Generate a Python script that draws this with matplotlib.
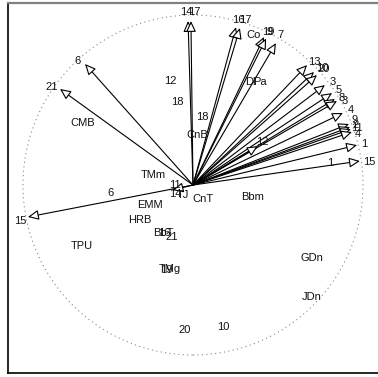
import matplotlib
matplotlib.use("Agg")
import matplotlib.pyplot as plt
from matplotlib.patches import Circle, FancyArrowPatch

plt.rcParams['font.family'] = ['Liberation Sans', 'DejaVu Sans']

# arrow (vector) scores: tips and their labels
arrow_labels = ['14', '17', '16', '17', '19', '9', '7', '13', '10', '20', '3', '5', '8', '3',
                '4', '9', '2', '11', '4', '1', '15', '15', '6', '21', '12', '14']
arrow_x = [-0.029, -0.012, 0.253, 0.276, 0.418, 0.43, 0.488, 0.671, 0.712, 0.729, 0.776, 0.818,
           0.835, 0.847, 0.882, 0.918, 0.924, 0.929, 0.935, 0.965, 0.982, -0.971, -0.635,
           -0.782, 0.382, -0.12]
arrow_y = [0.965, 0.965, 0.929, 0.924, 0.871, 0.862, 0.835, 0.706, 0.665, 0.647, 0.588, 0.541,
           0.506, 0.494, 0.424, 0.359, 0.341, 0.329, 0.312, 0.235, 0.141, -0.188, 0.712,
           0.565, 0.229, -0.03]
label_x = [-0.041, 0.006, 0.265, 0.306, 0.441, 0.448, 0.512, 0.712, 0.759, 0.771, 0.824, 0.859,
           0.876, 0.894, 0.929, 0.953, 0.959, 0.965, 0.971, 1.006, 1.035, -1.018, -0.682,
           -0.829, 0.406, -0.106]
label_y = [1.018, 1.018, 0.971, 0.971, 0.9, 0.9, 0.882, 0.724, 0.688, 0.682, 0.606, 0.559,
           0.512, 0.494, 0.441, 0.382, 0.353, 0.335, 0.3, 0.241, 0.135, -0.212, 0.729,
           0.576, 0.253, -0.053]

# site / other scores
site_labels = ['12', '18', '18', 'CnB', 'CMB', 'TMm', '11', '6', 'EMM', 'HRB', 'BbT', '16', '21',
               'TPU', 'TMg', '19', '20', '10', 'CnT', 'Bbm', 'GDn', 'JDn', 'Co', 'Dl', 'Pa', '1',
               'TJ']
site_x = [-0.135, -0.094, 0.053, 0.024, -0.647, -0.235, -0.106, -0.488, -0.253, -0.312, -0.176,
          -0.17, -0.124, -0.653, -0.135, -0.159, -0.047, 0.176, 0.059, 0.353, 0.7, 0.7, 0.359,
          0.335, 0.394, 0.806, -0.059]
site_y = [0.612, 0.488, 0.4, 0.294, 0.365, 0.059, 0.0, -0.047, -0.118, -0.206, -0.282, -0.282,
          -0.306, -0.359, -0.494, -0.5, -0.853, -0.835, -0.082, -0.071, -0.429, -0.659, 0.882,
          0.606, 0.606, 0.129, -0.059]

fig = plt.figure(figsize=(3.78, 3.77), dpi=100)
ax = fig.add_axes([8 / 378, 4 / 377, 372 / 378, 370 / 377])
ax.set_xlim(-1.088, 1.1)
ax.set_ylim(-1.106, 1.071)
ax.set_xticks([])
ax.set_yticks([])

# spines
ax.spines['right'].set_visible(False)
ax.spines['top'].set_color('#808080')
ax.spines['top'].set_linewidth(1.6)
ax.spines['left'].set_linewidth(1.2)
ax.spines['bottom'].set_linewidth(1.2)

# unit circle
ax.add_patch(Circle((0, 0), 1.0, fill=False, ls=(0, (1, 3)), lw=0.8, color='#888888'))

# arrows with open triangle heads
for x, y in zip(arrow_x, arrow_y):
    arr = FancyArrowPatch((0, 0), (x, y),
                          arrowstyle='-|>,head_length=0.65,head_width=0.3',
                          mutation_scale=10, lw=0.8, edgecolor='black', facecolor='white',
                          shrinkA=0, shrinkB=0)
    ax.add_patch(arr)

for lab, x, y in zip(arrow_labels, label_x, label_y):
    ax.text(x, y, lab, fontsize=8, ha='center', va='center', color='#111111')

for lab, x, y in zip(site_labels, site_x, site_y):
    ax.text(x, y, lab, fontsize=8, ha='center', va='center', color='#111111')

fig.savefig('out.png', dpi=100)
